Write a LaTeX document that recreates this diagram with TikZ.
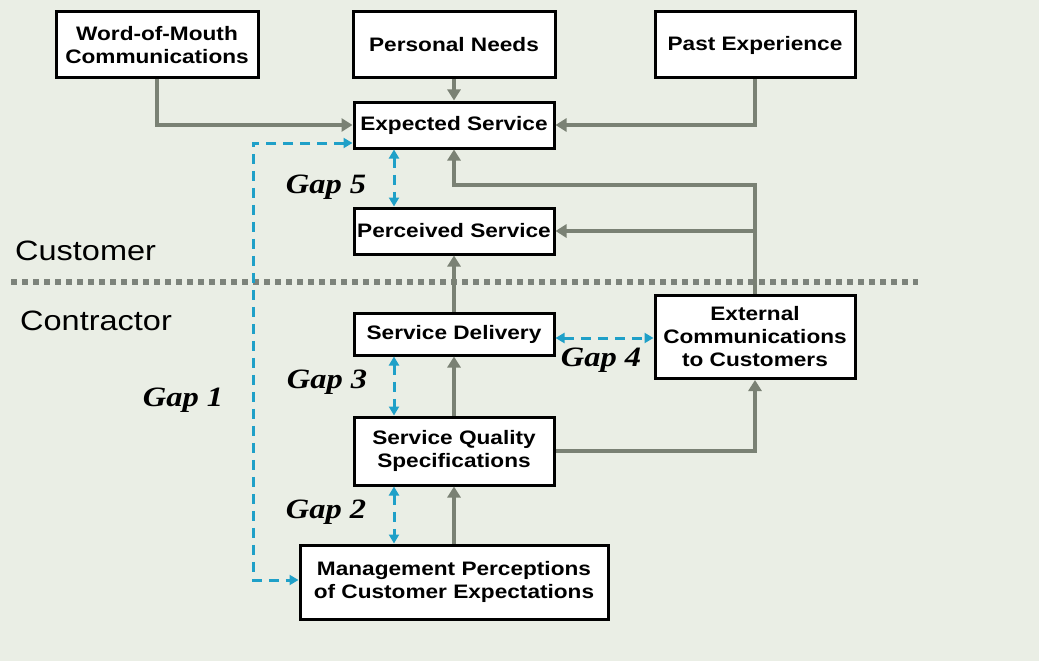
\documentclass[tikz,border=0pt]{standalone}
\usepackage{fontspec}
\usepackage{tikz}
\usepackage{xcolor}
\usetikzlibrary{arrows.meta}
\setmainfont{Liberation Sans}[FakeStretch=1.16]
\newfontfamily\gapfont{Liberation Serif}[FakeStretch=1.16]
\definecolor{bgcol}{HTML}{EAEEE5}
\definecolor{flowgray}{HTML}{7A8174}
\definecolor{gapblue}{HTML}{1FA0C8}
\definecolor{dotgray}{HTML}{7D837B}
\begin{document}
\begin{tikzpicture}[x=1pt,y=-1pt,
	box/.style={draw=black,line width=3pt,fill=white,align=center,inner sep=2pt,font=\fontsize{19.5}{23}\selectfont\bfseries},
	flow/.style={draw=flowgray,line width=3.5pt,-{Triangle[width=13pt,length=11pt]}},
	gap/.style={draw=gapblue,line width=3pt,dash pattern=on 10pt off 7pt,{Triangle[width=10pt,length=9pt]}-{Triangle[width=10pt,length=9pt]}},
	gaplabel/.style={font=\gapfont\fontsize{28}{30}\selectfont\bfseries\itshape,inner sep=0pt},
	side/.style={font=\fontsize{28}{30}\selectfont,inner sep=0pt,anchor=base west}]
	\fill[bgcol] (0,0) rectangle (1039,661); % fond
	\useasboundingbox (0,0) rectangle (1039,661);
	\draw[dotgray,line width=6pt,dash pattern=on 6pt off 5pt] (11,282)--(918,282); % separation client / prestataire
	\node[side] (cust) at (15,260) {Customer};
	\node[side] (contr) at (20,330) {Contractor};
	% cote client
	\node[box,minimum width=202pt,minimum height=66pt] (wom) at (157,45) {Word-of-Mouth\\Communications};
	\node[box,minimum width=202pt,minimum height=66pt] (pn) at (454,45) {Personal Needs};
	\node[box,minimum width=200pt,minimum height=66pt] (pe) at (755,45) {Past Experience};
	\node[box,minimum width=200pt,minimum height=46pt] (exp) at (454,125) {Expected Service};
	\node[box,minimum width=200pt,minimum height=46pt] (per) at (454,231) {Perceived Service};
	% cote prestataire
	\node[box,minimum width=200pt,minimum height=42pt] (sd) at (454,334) {Service Delivery};
	\node[box,minimum width=200pt,minimum height=68pt] (sqs) at (454,451) {Service Quality\\Specifications};
	\node[box,minimum width=308pt,minimum height=74pt] (mp) at (454,582) {Management Perceptions\\of Customer Expectations};
	\node[box,minimum width=200pt,minimum height=83pt] (ext) at (755,337) {External\\Communications\\to Customers};
	% fleches
	\draw[flow] (wom.south) |- (exp.west);
	\draw[flow] (pn.south) -- (exp.north);
	\draw[flow] (pe.south) |- (exp.east);
	\draw[flow] (ext.north) -- ++(0,-109) -| (exp.south);
	\draw[flow] (ext.north |- per.east) -- (per.east);
	\draw[flow] (sd.north) -- (per.south);
	\draw[flow] (sqs.north) -- (sd.south);
	\draw[flow] (mp.north) -- (sqs.south);
	\draw[flow] (sqs.east) -| (ext.south);
	% ecarts
	\coordinate (g1) at (253,580);
	\draw[gap] ([yshift=-18pt]exp.west) -| (g1) -- (g1 -| mp.west);
	\draw[gap] ([xshift=-60pt]exp.south) -- ([xshift=-60pt]per.north);
	\draw[gap] ([xshift=-60pt]sd.south) -- ([xshift=-60pt]sqs.north);
	\draw[gap] ([xshift=-60pt]sqs.south) -- ([xshift=-60pt]sqs.south |- mp.north);
	\draw[gap] ([yshift=-4pt]sd.east) -- ([yshift=-4pt]sd.east -| ext.west);
	\node[gaplabel] (gap1) at (183,400) {Gap 1};
	\node[gaplabel] (gap2) at (326,512) {Gap 2};
	\node[gaplabel] (gap3) at (327,382) {Gap 3};
	\node[gaplabel] (gap4) at (601,360) {Gap 4};
	\node[gaplabel] (gap5) at (326,187) {Gap 5};
\end{tikzpicture}
\end{document}
